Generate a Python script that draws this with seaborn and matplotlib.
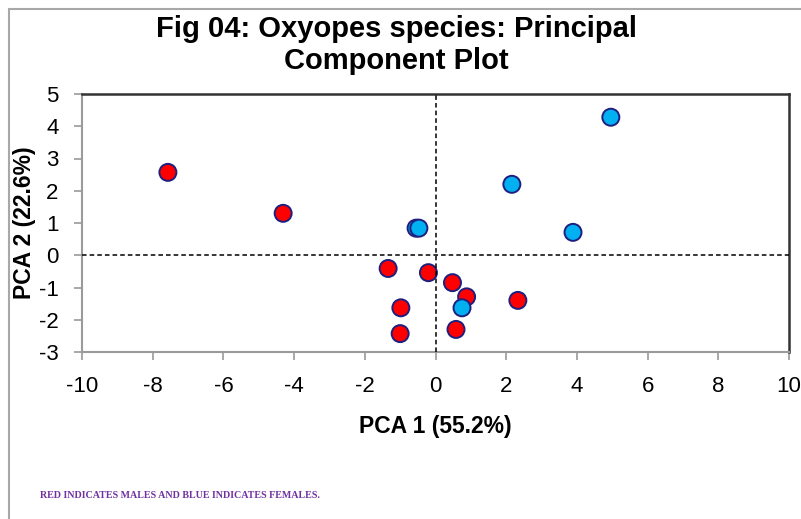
import matplotlib
matplotlib.use("Agg")
import matplotlib.pyplot as plt
import seaborn as sns
import pandas as pd
from matplotlib.lines import Line2D

# ---- data ----
male_x = [-7.57, -4.31, -1.34, -0.20, 0.48, 0.88, 2.33, -0.98, -1.00, 0.58]
male_y = [2.57, 1.30, -0.41, -0.54, -0.85, -1.29, -1.40, -1.63, -2.43, -2.30]
female_x = [4.96, 2.16, 3.89, -0.55, -0.47, 0.75]
female_y = [4.28, 2.20, 0.71, 0.84, 0.84, -1.63]
x_ticks = [-10, -8, -6, -4, -2, 0, 2, 4, 6, 8, 10]
y_ticks = [-3, -2, -1, 0, 1, 2, 3, 4, 5]

title_text = "Fig 04: Oxyopes species: Principal\nComponent Plot"
x_label = "PCA 1 (55.2%)"
y_label = "PCA 2 (22.6%)"
note_text = "RED INDICATES MALES AND BLUE INDICATES FEMALES."

df = pd.DataFrame({
    "PC1": male_x + female_x,
    "PC2": male_y + female_y,
    "sex": ["Male"] * len(male_x) + ["Female"] * len(female_x),
})

sns.set_theme(style="white")
plt.rcParams["font.family"] = ["Liberation Sans", "DejaVu Sans"]
plt.rcParams["axes.unicode_minus"] = False
plt.rcParams["text.color"] = "black"
plt.rcParams["axes.labelcolor"] = "black"

W, H = 801, 519
fig = plt.figure(figsize=(W / 100, H / 100), dpi=100)
L, R, T, B = 82, 789, 94, 352
ax = fig.add_axes([L / W, 1 - B / H, (R - L) / W, (B - T) / H])

sns.scatterplot(data=df, x="PC1", y="PC2", hue="sex",
                palette={"Male": "#FF0000", "Female": "#00B0F0"},
                s=150, edgecolor="#1F1F80", linewidth=1.4,
                legend=False, ax=ax, zorder=3)

ax.axvline(0, color="black", linestyle=(0, (3, 2)), linewidth=1.1, zorder=4)
ax.axhline(0, color="black", linestyle=(0, (3, 2)), linewidth=1.1, zorder=4)

ax.set_xlim(-10, 10)
ax.set_ylim(-3, 5)
ax.set_xticks(x_ticks)
ax.set_yticks(y_ticks)
ax.tick_params(axis="both", direction="out", length=6, width=1.2,
               color="#9A9A9A", labelsize=16, labelcolor="black")
ax.tick_params(axis="x", pad=11)
ax.tick_params(axis="y", pad=11)
ax.tick_params(axis="both", which="both", bottom=True, left=True)

for side in ["left", "bottom"]:
    ax.spines[side].set_color("#9A9A9A")
    ax.spines[side].set_linewidth(1.5)
for side in ["top", "right"]:
    ax.spines[side].set_color("#333333")
    ax.spines[side].set_linewidth(1.8)

ax.set_xlabel(x_label, fontsize=16.5, fontweight="bold", labelpad=13, color="black")
ax.set_ylabel(y_label, fontsize=16.5, fontweight="bold", labelpad=2, color="black")

fig.text(396 / W, 1 - 45 / H, title_text, ha="center", va="center",
         fontsize=21, fontweight="bold", linespacing=1.15, color="black")

fig.text(40 / W, 1 - 496 / H, note_text, ha="left", va="center",
         fontsize=7.2, fontweight="bold", color="#7030A0",
         family=["Liberation Serif", "DejaVu Serif"])

# outer frame (top and left edges)
fig.add_artist(Line2D([9 / W, 9 / W], [0, 1 - 9 / H], transform=fig.transFigure,
                      color="#A8A8A8", linewidth=1.5))
fig.add_artist(Line2D([9 / W, 1], [1 - 9 / H, 1 - 9 / H], transform=fig.transFigure,
                      color="#A8A8A8", linewidth=1.5))

fig.savefig("out.png", dpi=100)
